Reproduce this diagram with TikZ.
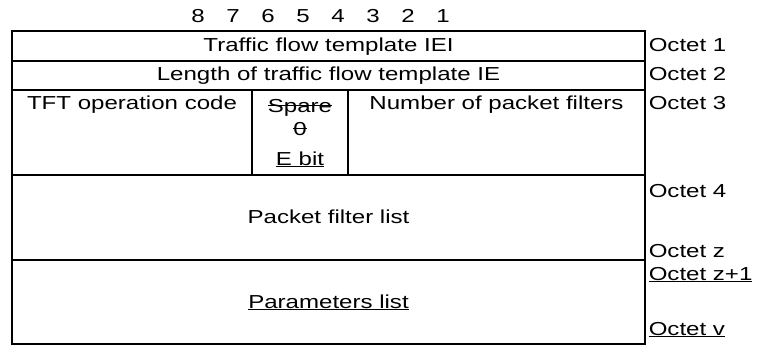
\documentclass[tikz,border=0pt]{standalone}
\usepackage{fontspec}
\setmainfont{Liberation Sans}[FakeStretch=1.28]
\newsavebox\strkbox
\newcommand\strk[1]{\sbox\strkbox{#1}\rlap{\usebox\strkbox}\rule[0.3em]{\wd\strkbox}{0.9pt}}
\newcommand\uln[1]{\underline{#1}}
\tikzset{
  txt/.style={anchor=base, inner sep=0pt},
  oct/.style={anchor=base west, inner sep=0pt}
}
\begin{document}
\begin{tikzpicture}[x=1pt, y=-1pt, line width=1.5pt, font=\fontsize{18.8}{21}\selectfont]
        \useasboundingbox (0,0) rectangle (758,345);
        % frame and rows
        \draw (12,31) rectangle (645,344);
        \draw (12,61) -- (645,61);
        \draw (12,90) -- (645,90);
        \draw (12,175) -- (645,175);
        \draw (12,260) -- (645,260);
        \draw (252,90) -- (252,175);
        \draw (348,90) -- (348,175);

        % bit numbers
        \foreach \b [count=\i] in {8,7,6,5,4,3,2,1}
            \node[txt] (b\b) at ({198+(\i-1)*35},22.5) {\b};

        \node[txt] (iei) at (328.5,52) {Traffic flow template IEI};
        \node[txt] (len) at (328.5,81) {Length of traffic flow template IE};
        \node[txt] (opc) at (132,110) {TFT operation code};
        \node[txt] (spare) at (300,112) {\strk{Spare}};
        \node[txt] (zero) at (300,135) {\strk{0}};
        \node[txt] (ebit) at (300,165) {\uln{E bit}};
        \node[txt] (npf) at (496.5,110) {Number of packet filters};
        \node[txt] (pfl) at (328.5,223) {Packet filter list};
        \node[txt] (par) at (328.5,308) {\uln{Parameters list}};

        \node[oct] (o1) at (648,52) {Octet 1};
        \node[oct] (o2) at (648,81) {Octet 2};
        \node[oct] (o3) at (648,110) {Octet 3};
        \node[oct] (o4) at (648,197) {Octet 4};
        \node[oct] (oz) at (648,257) {Octet z};
        \node[oct] (oz1) at (648,280) {\uln{Octet z+1}};
        \node[oct] (ov) at (648,335) {\uln{Octet v}};
\end{tikzpicture}
\end{document}
